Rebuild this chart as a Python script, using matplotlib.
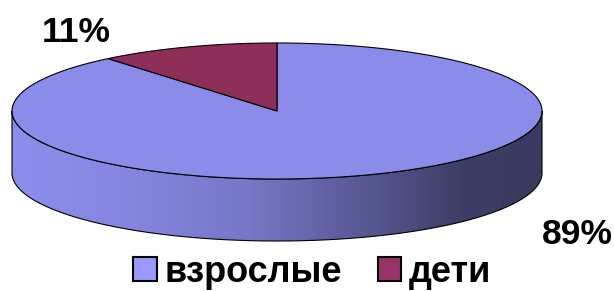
import numpy as np
import matplotlib
matplotlib.use("Agg")
import matplotlib.pyplot as plt
from matplotlib.path import Path
from matplotlib.patches import PathPatch, Polygon, Patch
from matplotlib.colors import LinearSegmentedColormap

# data
labels = ["взрослые", "дети"]
values = [89, 11]
pct_text = ["89%", "11%"]
top_colors = ["#8B8BEA", "#8E2F5A"]
legend_colors = ["#9999FF", "#993366"]

plt.rcParams['font.family'] = ['Liberation Sans', 'DejaVu Sans']

W, H = 614, 291
fig = plt.figure(figsize=(W / 100, H / 100), dpi=100)
ax = fig.add_axes([0, 0, 1, 1])
ax.set_xlim(0, W)
ax.set_ylim(H, 0)
ax.axis('off')

cx, cy = 277, 111   # center of the top face
a, b = 265, 68      # ellipse semi-axes
depth = 62          # thickness of the pie


def pt(t, dy=0):
    r = np.radians(t)
    return cx + a * np.cos(r), cy - b * np.sin(r) + dy


# side wall (front half, from 180 to 360 deg)
ts = np.linspace(180, 360, 200)
top_edge = [pt(t) for t in ts]
bot_edge = [pt(t, depth) for t in ts[::-1]]
side_pts = np.array(top_edge + bot_edge)
side_path = Path(np.vstack([side_pts, side_pts[:1]]), closed=True)

cmap = LinearSegmentedColormap.from_list(
    "side", [(0.0, "#8C8CEB"), (0.2, "#8787E2"), (0.45, "#7676C6"),
             (0.7, "#53538C"), (0.85, "#3D3D66"), (1.0, "#3A3A60")])
grad = np.linspace(0, 1, 256).reshape(1, -1)
im = ax.imshow(grad, cmap=cmap, aspect='auto',
               extent=[cx - a, cx + a, cy + b + depth + 2, cy - 2], zorder=1)
ax.set_xlim(0, W)
ax.set_ylim(H, 0)
clip = PathPatch(side_path, transform=ax.transData, facecolor='none', edgecolor='none')
ax.add_patch(clip)
im.set_clip_path(clip)
ax.add_patch(PathPatch(side_path, facecolor='none', edgecolor='black', lw=0.8, zorder=2))

# top face slices, clockwise from 12 o'clock
start = 90.0
for v, col in zip(values, top_colors):
    sweep = 360.0 * v / sum(values)
    arc = np.linspace(start, start - sweep, 300)
    poly = [(cx, cy)] + [pt(t) for t in arc]
    ax.add_patch(Polygon(poly, closed=True, facecolor=col, edgecolor='black',
                         lw=0.8, zorder=3))
    start -= sweep

# percent labels
ax.text(577, 234, pct_text[0], fontsize=25.5, fontweight='bold', ha='center', va='center', zorder=5)
ax.text(76, 33, pct_text[1], fontsize=25.5, fontweight='bold', ha='center', va='center', zorder=5)

# legend
handles = [Patch(facecolor=c, edgecolor='black', lw=1.5) for c in legend_colors]
fig.legend(handles, labels, loc='center', bbox_to_anchor=(312 / W, 1 - 272 / H),
           ncol=2, frameon=False, prop={'size': 26, 'weight': 'bold'},
           handlelength=0.65, handleheight=0.65, handletextpad=0.2,
           columnspacing=1.0, borderaxespad=0)

fig.savefig("out.png", dpi=100)
